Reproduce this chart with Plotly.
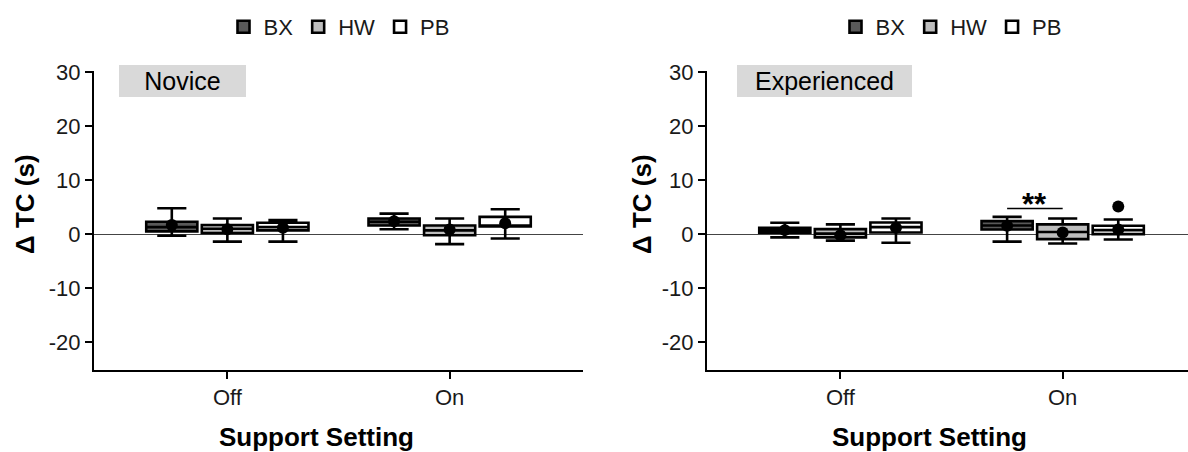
import plotly.graph_objects as go

# ---------------- data ----------------
groups = ["BX", "HW", "PB"]
settings = ["Off", "On"]
panels = ["Novice", "Experienced"]
y_ticks = [-20, -10, 0, 10, 20, 30]
y_tick_text = ["-20", "-10", "0", "10", "20", "30"]

# Novice  (values for [Off, On])
nov_lower  = {"BX": [-0.3, 0.9],  "HW": [-1.4, -1.85], "PB": [-1.4, -0.8]}
nov_q1     = {"BX": [0.5, 1.6],   "HW": [0.2, -0.2],   "PB": [0.7, 1.4]}
nov_median = {"BX": [1.3, 2.3],   "HW": [1.0, 0.7],    "PB": [1.3, 1.5]}
nov_q3     = {"BX": [2.3, 2.9],   "HW": [1.7, 1.6],    "PB": [2.1, 3.2]}
nov_upper  = {"BX": [4.8, 3.8],   "HW": [2.9, 2.9],    "PB": [2.6, 4.6]}
nov_mean   = {"BX": [1.7, 2.4],   "HW": [0.9, 0.85],   "PB": [1.2, 2.0]}

# Experienced (values for [Off, On])
exp_lower  = {"BX": [-0.6, -1.4], "HW": [-1.2, -1.75], "PB": [-1.6, -1.0]}
exp_q1     = {"BX": [0.25, 0.86], "HW": [-0.6, -0.92], "PB": [0.3, 0.0]}
exp_median = {"BX": [0.7, 1.6],   "HW": [0.1, 0.4],    "PB": [1.3, 0.74]}
exp_q3     = {"BX": [1.17, 2.4],  "HW": [0.92, 1.8],   "PB": [2.15, 1.54]}
exp_upper  = {"BX": [2.1, 3.2],   "HW": [1.8, 2.9],    "PB": [2.9, 2.7]}
exp_mean   = {"BX": [0.74, 1.54], "HW": [-0.2, 0.3],   "PB": [1.17, 0.87]}

exp_outlier_group = ["PB"]
exp_outlier_setting = ["On"]
exp_outlier_value = [5.1]

# significance bracket (Experienced, On: BX vs HW)
sig_setting = "On"
sig_groups = ["BX", "HW"]
sig_y = 4.74
sig_label = "**"

# ---------------- style ----------------
W, H = 1188, 452
FONT = "Arial, Liberation Sans, sans-serif"
fills = {"BX": "#595959", "HW": "#bdbdbd", "PB": "#ffffff"}
offsets = {"BX": -0.25, "HW": 0.0, "PB": 0.25}
BOX_W = 0.23

def pos(setting, group):
    return settings.index(setting) + offsets[group]

fig = go.Figure()

def add_panel(lower, q1, med, q3, upper, mean, xa, ya, legend_name):
    for g in groups:
        fig.add_trace(go.Box(
            x=[pos(s, g) for s in settings],
            q1=q1[g], median=med[g], q3=q3[g],
            lowerfence=lower[g], upperfence=upper[g],
            orientation="v", width=BOX_W, whiskerwidth=0.57,
            boxpoints=False, name=g,
            fillcolor=fills[g], line=dict(color="black", width=2.6),
            xaxis=xa, yaxis=ya, legend=legend_name, showlegend=True,
            hoverinfo="skip",
        ))
    xs, ys = [], []
    for g in groups:
        for i, s in enumerate(settings):
            xs.append(pos(s, g))
            ys.append(mean[g][i])
    fig.add_trace(go.Scatter(
        x=xs, y=ys, mode="markers",
        marker=dict(color="black", size=12, symbol="circle"),
        xaxis=xa, yaxis=ya, showlegend=False, hoverinfo="skip",
    ))

add_panel(nov_lower, nov_q1, nov_median, nov_q3, nov_upper, nov_mean, "x", "y", "legend")
add_panel(exp_lower, exp_q1, exp_median, exp_q3, exp_upper, exp_mean, "x2", "y2", "legend2")

fig.add_trace(go.Scatter(
    x=[pos(s, g) for s, g in zip(exp_outlier_setting, exp_outlier_group)],
    y=exp_outlier_value, mode="markers",
    marker=dict(color="black", size=12),
    xaxis="x2", yaxis="y2", showlegend=False, hoverinfo="skip",
))

# significance bracket
fig.add_shape(type="line", xref="x2", yref="y2",
              x0=pos(sig_setting, sig_groups[0]), x1=pos(sig_setting, sig_groups[1]),
              y0=sig_y, y1=sig_y, line=dict(color="black", width=1.5))
fig.add_annotation(xref="x2", yref="y2",
                   x=(pos(sig_setting, sig_groups[0]) + pos(sig_setting, sig_groups[1])) / 2,
                   y=sig_y + 0.7, text="<b>" + sig_label + "</b>", showarrow=False,
                   font=dict(size=31, color="black", family=FONT), yanchor="middle")

axis_common = dict(
    showline=True, linecolor="black", linewidth=2, mirror=False,
    ticks="outside", ticklen=7, tickwidth=2, tickcolor="black",
    showgrid=False, automargin=False,
    tickfont=dict(size=22, color="#1a1a1a", family=FONT),
)
yr = [-25.2, 30.25]
fig.update_layout(
    width=W, height=H,
    margin=dict(l=0, r=0, t=0, b=0),
    paper_bgcolor="white", plot_bgcolor="white",
    template="none",
    font=dict(family=FONT, color="black"),
    showlegend=True,
    xaxis=dict(domain=[94 / W, 583 / W], range=[-0.6, 1.6],
               tickvals=[0, 1], ticktext=settings, zeroline=False, anchor="y", **axis_common),
    yaxis=dict(domain=[1 - 370 / H, 1 - 71 / H], range=yr, tickvals=y_ticks, ticktext=y_tick_text,
               zeroline=True, zerolinecolor="#444444", zerolinewidth=1, anchor="x", **axis_common),
    xaxis2=dict(domain=[707 / W, 1.0], range=[-0.6, -0.6 + (W - 707) / 222.3],
                tickvals=[0, 1], ticktext=settings, zeroline=False, anchor="y2", **axis_common),
    yaxis2=dict(domain=[1 - 370 / H, 1 - 71 / H], range=yr, tickvals=y_ticks, ticktext=y_tick_text,
                zeroline=True, zerolinecolor="#444444", zerolinewidth=1, anchor="x2", **axis_common),
    legend=dict(orientation="h", x=339 / W, xanchor="center", y=1 - 27 / H, yanchor="middle",
                font=dict(size=22, color="#1a1a1a", family=FONT), itemwidth=30,
                bgcolor="rgba(0,0,0,0)"),
    legend2=dict(orientation="h", x=951 / W, xanchor="center", y=1 - 27 / H, yanchor="middle",
                 font=dict(size=22, color="#1a1a1a", family=FONT), itemwidth=30,
                 bgcolor="rgba(0,0,0,0)"),
)

# strip labels
strips = [(119, 246, panels[0]), (737, 912, panels[1])]
for x0, x1, label in strips:
    fig.add_annotation(xref="paper", yref="paper", x=(x0 + x1) / 2 / W, y=1 - 81 / H,
                       text=label, showarrow=False, width=x1 - x0, height=32,
                       bgcolor="#d9d9d9", borderpad=0, borderwidth=0,
                       font=dict(size=25, color="black", family=FONT),
                       xanchor="center", yanchor="middle")

# axis titles
for xc in [316, 929]:
    fig.add_annotation(xref="paper", yref="paper", x=xc / W, y=1 - 437 / H,
                       text="<b>Support Setting</b>", showarrow=False,
                       font=dict(size=26, color="black", family=FONT),
                       xanchor="center", yanchor="middle")
for xc in [25, 642]:
    fig.add_annotation(xref="paper", yref="paper", x=xc / W, y=1 - 204 / H,
                       text="<b>Δ TC (s)</b>", showarrow=False, textangle=-90,
                       font=dict(size=26, color="black", family=FONT),
                       xanchor="center", yanchor="middle")

fig.write_html("out.html")
